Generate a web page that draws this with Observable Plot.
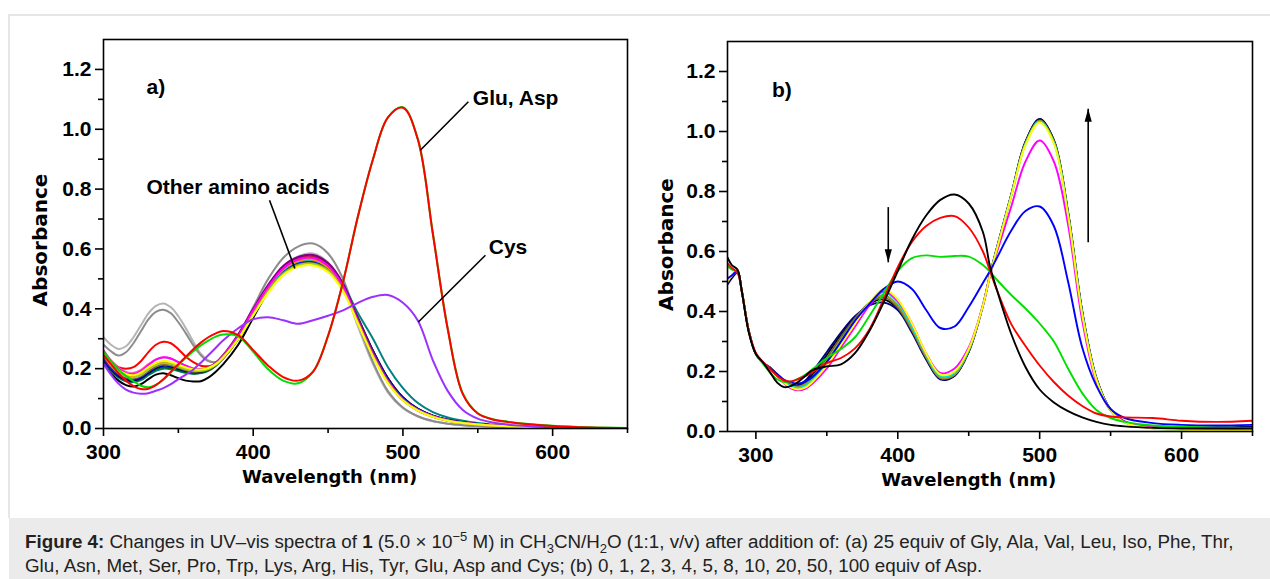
<!DOCTYPE html>
<html><head><meta charset="utf-8">
<script src="https://cdn.jsdelivr.net/npm/d3@7"></script>
<script src="https://cdn.jsdelivr.net/npm/@observablehq/plot@0.6"></script>
<style>
html,body{margin:0;padding:0;background:#fff;}
body{width:1270px;height:579px;overflow:hidden;position:relative;font-family:"Liberation Sans",Arial,sans-serif;}
#frame{position:absolute;left:8px;top:14px;width:1262px;height:504px;border-top:2px solid #e6e6e6;border-left:2px solid #e6e6e6;box-sizing:border-box;}
#pa{position:absolute;left:0;top:0;}
#pb{position:absolute;left:640px;top:0;}
#cap{position:absolute;left:9px;top:518px;width:1261px;height:61px;background:#ebebeb;box-sizing:border-box;padding:12px 0 0 16px;font-size:18.8px;line-height:24.3px;color:#222;white-space:nowrap;}
#cap sub,#cap sup{font-size:13px;line-height:0;}
</style></head>
<body>
<div id="frame"></div>
<div id="pa"></div>
<div id="pb"></div>
<div id="cap"><b>Figure 4:</b> Changes in UV–vis spectra of <b>1</b> (5.0 × 10<sup>−5</sup> M) in CH<sub>3</sub>CN/H<sub>2</sub>O (1:1, v/v) after addition of: (a) 25 equiv of Gly, Ala, Val, Leu, Iso, Phe, Thr,<br>Glu, Asn, Met, Ser, Pro, Trp, Lys, Arg, His, Tyr, Glu, Asp and Cys; (b) 0, 1, 2, 3, 4, 5, 8, 10, 20, 50, 100 equiv of Asp.</div>
<script>
// ---------- Panel a data ----------
const wlA = [300,305,310,315,320,325,330,335,340,345,350,355,360,365,370,375,380,390,400,410,420,430,440,450,460,470,480,490,500,510,520,530,540,550,560,570,580,600,625,650];
const aLightGray = [0.305,0.28,0.266,0.275,0.305,0.345,0.385,0.41,0.418,0.405,0.375,0.335,0.29,0.25,0.228,0.222,0.235,0.3,0.39,0.475,0.54,0.575,0.585,0.555,0.475,0.34,0.215,0.12,0.068,0.04,0.024,0.016,0.011,0.008,0.006,0.004,0.003,0.002,0.001,0];
const aGray = [0.28,0.258,0.244,0.255,0.285,0.325,0.365,0.39,0.397,0.385,0.355,0.318,0.278,0.245,0.225,0.222,0.24,0.31,0.405,0.5,0.57,0.608,0.618,0.585,0.5,0.355,0.222,0.125,0.07,0.041,0.025,0.016,0.011,0.008,0.006,0.004,0.003,0.002,0.001,0];
const aRedBump = [0.245,0.225,0.205,0.2,0.205,0.225,0.255,0.28,0.29,0.285,0.265,0.24,0.222,0.21,0.208,0.215,0.235,0.3,0.385,0.47,0.535,0.568,0.575,0.55,0.48,0.36,0.245,0.155,0.095,0.06,0.04,0.027,0.019,0.014,0.01,0.007,0.005,0.003,0.001,0];
const aBlack = [0.22,0.185,0.16,0.145,0.14,0.148,0.165,0.18,0.185,0.178,0.168,0.16,0.157,0.158,0.17,0.19,0.215,0.28,0.37,0.458,0.525,0.562,0.57,0.545,0.48,0.37,0.26,0.168,0.104,0.066,0.043,0.029,0.021,0.015,0.011,0.008,0.006,0.003,0.001,0];
const aPurple = [0.24,0.205,0.182,0.17,0.168,0.176,0.194,0.21,0.218,0.215,0.207,0.199,0.195,0.196,0.203,0.22,0.246,0.315,0.4,0.48,0.543,0.573,0.58,0.553,0.485,0.365,0.252,0.16,0.098,0.062,0.041,0.028,0.02,0.015,0.011,0.008,0.006,0.003,0.001,0];
const aMagenta = [0.26,0.225,0.2,0.185,0.182,0.192,0.212,0.23,0.238,0.234,0.222,0.21,0.2,0.197,0.202,0.218,0.243,0.31,0.395,0.473,0.535,0.565,0.57,0.543,0.475,0.358,0.247,0.157,0.096,0.061,0.04,0.027,0.019,0.014,0.01,0.007,0.005,0.003,0.001,0];
const aOrange = [0.25,0.215,0.19,0.177,0.174,0.183,0.2,0.215,0.222,0.219,0.21,0.201,0.196,0.196,0.202,0.217,0.242,0.308,0.392,0.47,0.532,0.56,0.565,0.538,0.47,0.356,0.246,0.156,0.096,0.061,0.04,0.027,0.019,0.014,0.01,0.007,0.005,0.003,0.001,0];
const aNavy = [0.232,0.198,0.176,0.163,0.16,0.168,0.186,0.202,0.21,0.207,0.199,0.192,0.188,0.19,0.198,0.214,0.24,0.306,0.39,0.468,0.528,0.556,0.56,0.537,0.472,0.365,0.258,0.167,0.104,0.066,0.043,0.029,0.021,0.015,0.011,0.008,0.006,0.003,0.001,0];
const aBlue = [0.235,0.2,0.18,0.168,0.165,0.172,0.19,0.205,0.212,0.21,0.203,0.196,0.192,0.193,0.2,0.215,0.24,0.305,0.385,0.463,0.523,0.552,0.557,0.533,0.468,0.36,0.252,0.162,0.1,0.064,0.042,0.028,0.02,0.015,0.011,0.008,0.006,0.003,0.001,0];
const aTeal = [0.228,0.192,0.17,0.158,0.155,0.162,0.178,0.193,0.2,0.198,0.192,0.186,0.183,0.185,0.193,0.21,0.236,0.3,0.382,0.46,0.52,0.55,0.555,0.535,0.48,0.385,0.3,0.205,0.135,0.085,0.055,0.037,0.026,0.018,0.013,0.009,0.007,0.004,0.002,0.001];
const aYellowGreen = [0.245,0.21,0.186,0.173,0.17,0.178,0.196,0.211,0.218,0.215,0.206,0.198,0.193,0.193,0.199,0.213,0.237,0.3,0.38,0.457,0.516,0.545,0.55,0.527,0.462,0.352,0.242,0.153,0.094,0.06,0.039,0.026,0.018,0.013,0.01,0.007,0.005,0.003,0.001,0];
const aYellow = [0.255,0.22,0.195,0.182,0.178,0.187,0.205,0.219,0.226,0.222,0.213,0.204,0.198,0.197,0.202,0.215,0.238,0.3,0.378,0.453,0.512,0.54,0.545,0.522,0.458,0.35,0.24,0.152,0.094,0.06,0.039,0.026,0.018,0.013,0.01,0.007,0.005,0.003,0.001,0];
const aOlive = [0.24,0.205,0.182,0.17,0.167,0.175,0.192,0.207,0.214,0.211,0.203,0.195,0.19,0.191,0.197,0.212,0.236,0.3,0.382,0.46,0.519,0.548,0.552,0.53,0.466,0.358,0.248,0.158,0.097,0.062,0.04,0.027,0.019,0.014,0.01,0.007,0.005,0.003,0.001,0];
const aDarkGreen = [0.23,0.196,0.173,0.161,0.158,0.166,0.183,0.198,0.205,0.202,0.195,0.188,0.184,0.186,0.194,0.21,0.236,0.302,0.386,0.465,0.526,0.555,0.56,0.537,0.472,0.365,0.258,0.166,0.103,0.065,0.042,0.028,0.02,0.014,0.01,0.007,0.005,0.003,0.001,0];
const aCyan = [0.25,0.214,0.19,0.177,0.174,0.182,0.2,0.215,0.222,0.219,0.21,0.201,0.196,0.196,0.201,0.216,0.241,0.307,0.39,0.468,0.529,0.558,0.562,0.538,0.472,0.362,0.252,0.16,0.098,0.062,0.04,0.027,0.019,0.014,0.01,0.007,0.005,0.003,0.001,0];
const aPink = [0.262,0.228,0.203,0.189,0.186,0.196,0.215,0.231,0.237,0.233,0.222,0.21,0.201,0.199,0.204,0.219,0.244,0.311,0.396,0.474,0.535,0.564,0.568,0.542,0.474,0.36,0.248,0.157,0.096,0.061,0.04,0.026,0.018,0.013,0.009,0.006,0.004,0.002,0.001,0];
const aBrown = [0.238,0.203,0.18,0.167,0.164,0.172,0.19,0.206,0.213,0.21,0.202,0.194,0.19,0.191,0.198,0.214,0.24,0.307,0.393,0.473,0.536,0.567,0.572,0.546,0.478,0.368,0.258,0.166,0.102,0.065,0.042,0.028,0.02,0.015,0.011,0.008,0.006,0.003,0.001,0];
const aCys = [0.216,0.18,0.15,0.13,0.12,0.116,0.118,0.126,0.135,0.148,0.165,0.18,0.197,0.22,0.245,0.27,0.295,0.335,0.365,0.372,0.362,0.35,0.362,0.377,0.395,0.42,0.44,0.446,0.42,0.36,0.228,0.125,0.062,0.033,0.02,0.013,0.009,0.004,0.002,0.001];
const aAsp = [0.255,0.225,0.196,0.176,0.158,0.143,0.138,0.146,0.163,0.187,0.212,0.236,0.258,0.278,0.294,0.307,0.314,0.308,0.256,0.198,0.16,0.151,0.19,0.31,0.49,0.71,0.9,1.04,1.074,0.967,0.652,0.332,0.117,0.051,0.031,0.023,0.017,0.009,0.004,0.002];
const aGlu = [0.245,0.215,0.185,0.16,0.142,0.132,0.133,0.145,0.165,0.19,0.215,0.24,0.265,0.287,0.305,0.318,0.326,0.312,0.262,0.21,0.172,0.16,0.19,0.31,0.49,0.71,0.9,1.04,1.072,0.965,0.65,0.33,0.115,0.05,0.03,0.022,0.016,0.008,0.003,0.001];

const seriesA = [
  {values: aLightGray, color: "#b4b4b4"},
  {values: aGray, color: "#8c8c8c"},
  {values: aRedBump, color: "#ff0000"},
  {values: aBlack, color: "#000000"},
  {values: aTeal, color: "#008080"},
  {values: aDarkGreen, color: "#006400"},
  {values: aBrown, color: "#a52a2a"},
  {values: aNavy, color: "#000080"},
  {values: aBlue, color: "#0000ff"},
  {values: aOlive, color: "#808000"},
  {values: aCyan, color: "#00c0c0"},
  {values: aPink, color: "#ff69b4"},
  {values: aPurple, color: "#800080"},
  {values: aOrange, color: "#ff8c00"},
  {values: aMagenta, color: "#ff00ff"},
  {values: aYellowGreen, color: "#9acd32"},
  {values: aYellow, color: "#ffff00"},
  {values: aCys, color: "#9b30ff"},
  {values: aAsp, color: "#00dd00"},
  {values: aGlu, color: "#ff0000"}
];
const labelsA = [
  {text: "a)", x: 328.7, y: 1.141},
  {text: "Glu, Asp", x: 546.7, y: 1.104},
  {text: "Other amino acids", x: 328.7, y: 0.806},
  {text: "Cys", x: 557.3, y: 0.606}
];
const leadersA = [
  {x1: 543.7, y1: 1.092, x2: 511.6, y2: 0.930},
  {x1: 410.9, y1: 0.763, x2: 427.8, y2: 0.535},
  {x1: 555.1, y1: 0.579, x2: 510.3, y2: 0.356}
];

// ---------- Panel b data ----------
const wlB = [280,283,287,290,295,300,305,310,315,320,325,330,335,340,350,360,370,380,390,400,410,420,430,440,450,460,465,470,480,490,500,510,520,530,540,550,560,580,600,625,650];
const b0 = [0.58,0.555,0.54,0.47,0.33,0.258,0.23,0.197,0.163,0.148,0.152,0.166,0.186,0.205,0.217,0.224,0.262,0.335,0.43,0.535,0.64,0.72,0.772,0.79,0.76,0.665,0.55,0.47,0.325,0.215,0.14,0.097,0.068,0.047,0.032,0.022,0.017,0.012,0.01,0.01,0.01];
const b1 = [0.56,0.545,0.53,0.47,0.335,0.262,0.232,0.208,0.185,0.17,0.167,0.175,0.186,0.198,0.228,0.245,0.278,0.34,0.44,0.548,0.632,0.685,0.712,0.718,0.68,0.6,0.535,0.47,0.358,0.285,0.22,0.165,0.12,0.085,0.06,0.05,0.047,0.045,0.036,0.032,0.036];
const b2 = [0.55,0.54,0.53,0.47,0.335,0.258,0.226,0.196,0.174,0.165,0.167,0.176,0.19,0.208,0.245,0.275,0.315,0.385,0.46,0.535,0.578,0.587,0.582,0.585,0.583,0.555,0.532,0.505,0.455,0.41,0.36,0.3,0.21,0.128,0.072,0.045,0.032,0.02,0.016,0.013,0.012];
const b3 = [0.51,0.52,0.535,0.47,0.335,0.258,0.23,0.212,0.192,0.172,0.163,0.16,0.167,0.182,0.232,0.3,0.37,0.425,0.475,0.5,0.475,0.405,0.345,0.35,0.415,0.495,0.535,0.58,0.67,0.735,0.75,0.685,0.5,0.28,0.152,0.075,0.045,0.028,0.022,0.02,0.022];
const b4 = [0.5,0.52,0.535,0.47,0.335,0.258,0.228,0.21,0.185,0.16,0.143,0.137,0.143,0.16,0.21,0.28,0.35,0.42,0.468,0.435,0.36,0.26,0.195,0.21,0.28,0.42,0.52,0.6,0.75,0.9,0.97,0.9,0.69,0.37,0.165,0.07,0.033,0.015,0.01,0.008,0.008];
const b5 = [0.5,0.52,0.535,0.47,0.335,0.258,0.228,0.21,0.186,0.162,0.146,0.14,0.147,0.166,0.22,0.29,0.36,0.43,0.475,0.44,0.36,0.26,0.19,0.2,0.275,0.42,0.52,0.61,0.785,0.955,1.03,0.96,0.72,0.39,0.172,0.07,0.03,0.01,0.006,0.004,0.004];
const b8 = [0.5,0.52,0.535,0.47,0.335,0.258,0.228,0.212,0.188,0.165,0.15,0.145,0.153,0.172,0.228,0.298,0.365,0.428,0.465,0.43,0.35,0.255,0.185,0.195,0.272,0.42,0.52,0.61,0.785,0.957,1.033,0.963,0.723,0.392,0.173,0.07,0.03,0.01,0.006,0.004,0.004];
const b10 = [0.5,0.52,0.535,0.47,0.335,0.258,0.228,0.212,0.19,0.166,0.152,0.148,0.157,0.177,0.235,0.305,0.372,0.43,0.455,0.42,0.342,0.25,0.18,0.19,0.27,0.42,0.522,0.612,0.787,0.96,1.035,0.966,0.726,0.394,0.174,0.07,0.03,0.012,0.008,0.006,0.006];
const b20 = [0.5,0.52,0.535,0.47,0.335,0.258,0.228,0.213,0.191,0.168,0.154,0.15,0.16,0.182,0.245,0.315,0.378,0.428,0.448,0.413,0.337,0.246,0.178,0.188,0.268,0.42,0.522,0.613,0.788,0.962,1.037,0.968,0.728,0.396,0.175,0.071,0.031,0.013,0.009,0.008,0.008];
const b50 = [0.49,0.51,0.53,0.47,0.335,0.258,0.229,0.213,0.19,0.165,0.155,0.155,0.17,0.2,0.265,0.33,0.385,0.42,0.43,0.405,0.33,0.24,0.174,0.185,0.265,0.42,0.523,0.615,0.79,0.965,1.04,0.97,0.73,0.4,0.178,0.073,0.033,0.016,0.014,0.014,0.016];
const b100 = [0.5,0.515,0.535,0.47,0.335,0.258,0.229,0.213,0.19,0.166,0.154,0.152,0.165,0.19,0.255,0.322,0.38,0.425,0.44,0.41,0.335,0.243,0.176,0.187,0.267,0.42,0.523,0.614,0.79,0.966,1.042,0.972,0.732,0.4,0.177,0.072,0.032,0.014,0.01,0.009,0.009];

const seriesB = [
  {values: b100, color: "#000000"},
  {values: b50, color: "#000080"},
  {values: b20, color: "#6b6b2a"},
  {values: b10, color: "#9a9a20"},
  {values: b8, color: "#00e0e0"},
  {values: b4, color: "#ff00ff"},
  {values: b5, color: "#ffff00"},
  {values: b3, color: "#0000ff"},
  {values: b2, color: "#00e000"},
  {values: b1, color: "#ff0000"},
  {values: b0, color: "#000000"}
];
const labelsB = [{text: "b)", x: 311.3, y: 1.137}];
const arrowsB = [
  {x: 393.3, from: 0.748, to: 0.564, dir: 180},
  {x: 534.2, from: 0.631, to: 1.076, dir: 0}
];

const majorXA = [300, 400, 500, 600], minorXA = [350, 450, 550, 650];
const majorXB = [300, 400, 500, 600], minorXB = [350, 450, 550, 650];
const majorY = [0, 0.2, 0.4, 0.6, 0.8, 1.0, 1.2], minorY = [0.1, 0.3, 0.5, 0.7, 0.9, 1.1];

// ---------- drawing ----------
const tickFont = "'Liberation Sans', Arial, sans-serif";
const titleFont = "'DejaVu Sans', Verdana, sans-serif";
const toRows = (wl, vals) => wl.map((w, i) => ({wl: w, A: vals[i]})).filter(d => d.A != null);
const headUp = {draw(ctx) { ctx.moveTo(0, 0); ctx.lineTo(-3.6, 13); ctx.lineTo(3.6, 13); ctx.closePath(); }};

function axes(majorX, minorX) {
  return [
    Plot.axisX({ticks: majorX, tickSize: 8, tickPadding: 8, tickFormat: d => String(d), fontSize: 21, fontWeight: "bold", fontFamily: tickFont, strokeWidth: 1.6, label: null}),
    Plot.axisX({ticks: minorX, tickSize: 5, tickFormat: () => "", strokeWidth: 1.6, label: null}),
    Plot.axisY({ticks: majorY, tickSize: 8, tickPadding: 4, tickFormat: d => d.toFixed(1), fontSize: 21, fontWeight: "bold", fontFamily: tickFont, strokeWidth: 1.6, label: null}),
    Plot.axisY({ticks: minorY, tickSize: 5, tickFormat: () => "", strokeWidth: 1.6, label: null}),
    Plot.frame({stroke: "black", strokeWidth: 1.6})
  ];
}

const plotA = Plot.plot({
  width: 640, height: 500,
  marginLeft: 103, marginRight: 13, marginTop: 39, marginBottom: 72,
  x: {domain: [300, 650]}, y: {domain: [0, 1.3]},
  style: {background: "transparent", color: "black", fontWeight: "bold", overflow: "visible"},
  marks: [
    ...seriesA.map(s => Plot.line(toRows(wlA, s.values), {x: "wl", y: "A", stroke: s.color, strokeWidth: 2, curve: "catmull-rom", clip: true})),
    Plot.link(leadersA, {x1: "x1", y1: "y1", x2: "x2", y2: "y2", stroke: "black", strokeWidth: 1.6}),
    Plot.text(labelsA, {x: "x", y: "y", text: "text", textAnchor: "start", fontSize: 21, fontWeight: "bold", fontFamily: tickFont, fill: "black"}),
    ...axes(majorXA, minorXA),
    Plot.text(["Absorbance"], {frameAnchor: "left", textAnchor: "middle", lineAnchor: "middle", rotate: -90, dx: -63, dy: 6, fontSize: 20, fontWeight: "bold", fontFamily: titleFont, fill: "black"}),
    Plot.text(["Wavelength (nm)"], {x: () => 451, frameAnchor: "bottom", lineAnchor: "middle", dy: 49, fontSize: 18, fontWeight: "bold", fontFamily: titleFont, fill: "black"})
  ]
});
document.getElementById("pa").appendChild(plotA);

const plotB = Plot.plot({
  width: 630, height: 500,
  marginLeft: 87, marginRight: 18, marginTop: 41, marginBottom: 69,
  x: {domain: [280, 650]}, y: {domain: [0, 1.3]},
  style: {background: "transparent", color: "black", fontWeight: "bold", overflow: "visible"},
  marks: [
    ...seriesB.map(s => Plot.line(toRows(wlB, s.values), {x: "wl", y: "A", stroke: s.color, strokeWidth: 1.9, curve: "catmull-rom", clip: true})),
    Plot.link(arrowsB, {x1: "x", y1: "from", x2: "x", y2: "to", stroke: "black", strokeWidth: 1.6}),
    Plot.dot(arrowsB, {x: "x", y: "to", symbol: headUp, rotate: "dir", fill: "black", stroke: "none", r: 4}),
    Plot.text(labelsB, {x: "x", y: "y", text: "text", textAnchor: "start", fontSize: 21, fontWeight: "bold", fontFamily: tickFont, fill: "black"}),
    ...axes(majorXB, minorXB),
    Plot.text(["Absorbance"], {frameAnchor: "left", textAnchor: "middle", lineAnchor: "middle", rotate: -90, dx: -61, dy: 8, fontSize: 20, fontWeight: "bold", fontFamily: titleFont, fill: "black"}),
    Plot.text(["Wavelength (nm)"], {x: () => 450, frameAnchor: "bottom", lineAnchor: "middle", dy: 49, fontSize: 18, fontWeight: "bold", fontFamily: titleFont, fill: "black"})
  ]
});
document.getElementById("pb").appendChild(plotB);
</script>
</body></html>
